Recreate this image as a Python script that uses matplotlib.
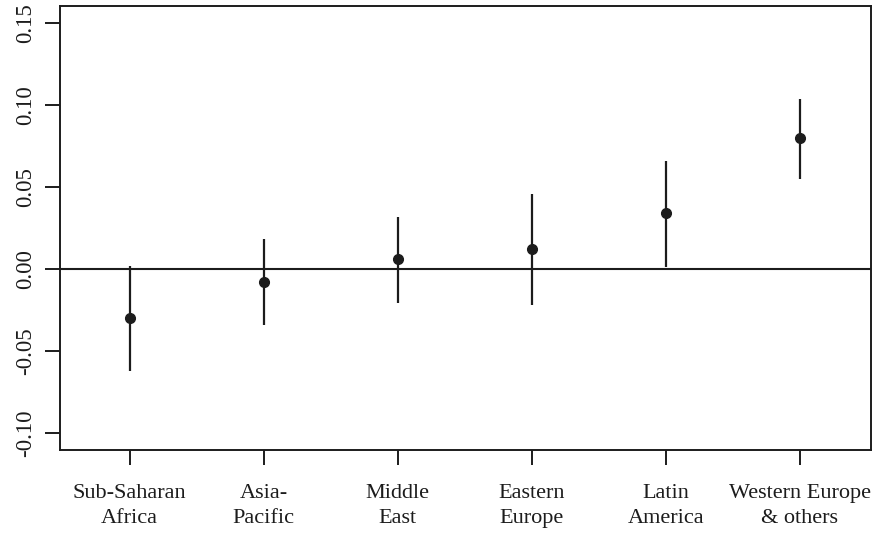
import matplotlib
matplotlib.use('Agg')
import matplotlib.pyplot as plt

regions = ["Sub-Saharan\nAfrica", "Asia-\nPacific", "Middle\nEast",
           "Eastern\nEurope", "Latin\nAmerica", "Western Europe\n& others"]
estimates = [-0.030, -0.008, 0.006, 0.012, 0.034, 0.080]
lower = [-0.062, -0.034, -0.021, -0.022, 0.001, 0.055]
upper = [0.002, 0.018, 0.032, 0.046, 0.066, 0.104]
yticks = [-0.10, -0.05, 0.00, 0.05, 0.10, 0.15]

plt.rcParams['font.family'] = ['Liberation Serif', 'DejaVu Serif']
ink = '#1c1c1c'

fig = plt.figure(figsize=(8.77, 5.36), dpi=100)
ax = fig.add_axes([0.0684, 0.1604, 0.9246, 0.8284])

xs = list(range(1, len(regions) + 1))
ax.axhline(0, color=ink, linewidth=1.5)
ax.vlines(xs, lower, upper, color=ink, linewidth=1.6)
ax.plot(xs, estimates, 'o', color=ink, markersize=7)

ax.set_xlim(0.48, 6.53)
ax.set_ylim(-0.1105, 0.1605)
ax.set_xticks(xs)
ax.set_xticklabels(regions, fontsize=16, linespacing=1.42)
ax.set_yticks(yticks)
ax.set_yticklabels([f"{v:.2f}" for v in yticks], fontsize=16.5, rotation=90, va='center')
ax.tick_params(axis='both', direction='out', length=10.5, width=1.4, color=ink, labelcolor=ink)
ax.tick_params(axis='x', pad=14)
ax.tick_params(axis='y', pad=7)
for s in ax.spines.values():
    s.set_linewidth(1.4)
    s.set_color(ink)

fig.savefig('out.png', dpi=100)
plt.close(fig)
